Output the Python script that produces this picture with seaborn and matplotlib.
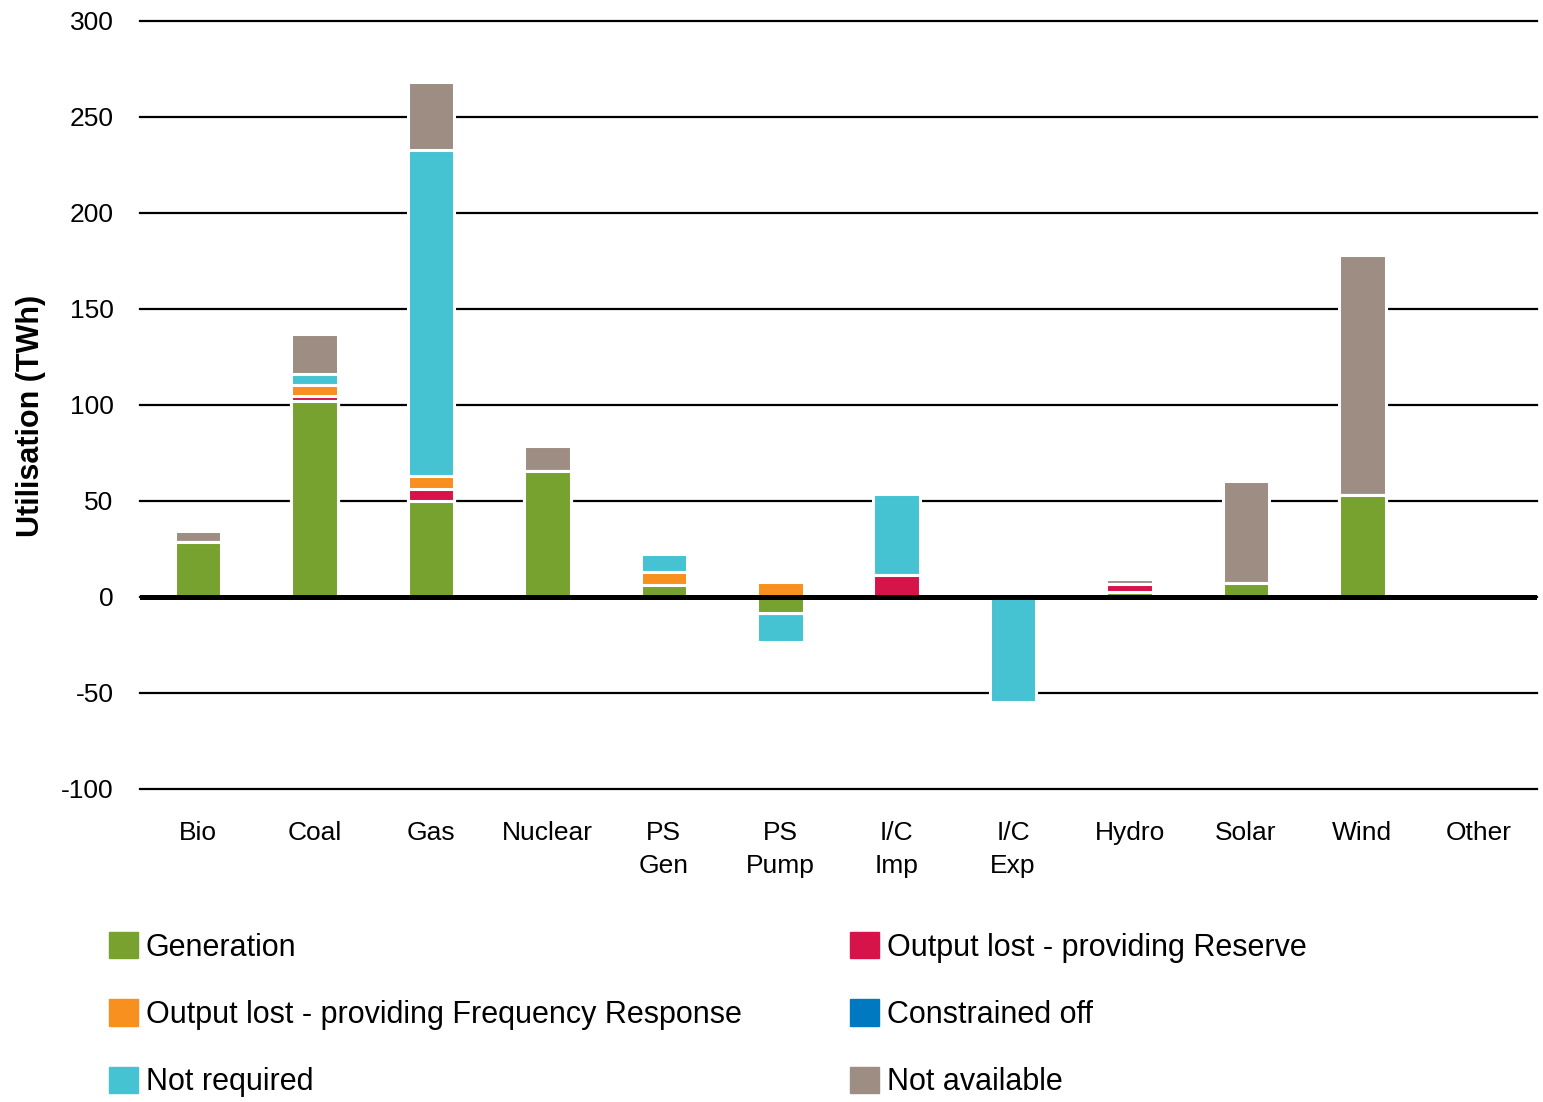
import numpy as np
import matplotlib
matplotlib.use("Agg")
import matplotlib.pyplot as plt
import matplotlib.patches as mpatches
import seaborn as sns

# categories and tick labels
categories = ["Bio", "Coal", "Gas", "Nuclear", "PS Gen", "PS Pump",
              "I/C Imp", "I/C Exp", "Hydro", "Solar", "Wind", "Other"]
tick_labels = ["Bio", "Coal", "Gas", "Nuclear", "PS\nGen", "PS\nPump",
               "I/C\nImp", "I/C\nExp", "Hydro", "Solar", "Wind", "Other"]

# utilisation by type (TWh)
generation = [28.5, 102, 50, 65.6, 6.2, -8.5, 0, 0, 2.5, 7.3, 53, 0]
reserve = [0, 2.7, 6, 0, 0, 0, 11.5, 0, 4.3, 0, 0, 0]
freq_response = [0, 5.7, 7, 0, 7, 7.8, 0, 0, 0, 0, 0, 0]
constrained_off = [0, 0, 0, 0, 0, 0, 0, 0, 0, 0, 0, 0]
not_required = [0, 5.7, 169.7, 0, 9.2, -15, 42.3, -54.5, 0, 0, 0, 0]
not_available = [6.0, 21.0, 35.5, 13.2, 0, 0, 0, 0, 2.7, 53.3, 125.3, 0]

series_names = ["Generation", "Output lost - providing Reserve",
                "Output lost - providing Frequency Response", "Constrained off",
                "Not required", "Not available"]
series_values = [generation, reserve, freq_response, constrained_off,
                 not_required, not_available]
colors = ["#78A22F", "#D7144A", "#F7901E", "#0079C1", "#45C3D2", "#9D8D83"]

plt.rcParams["font.family"] = ["Liberation Sans", "DejaVu Sans"]

fig = plt.figure(figsize=(15.43, 11.02), dpi=100)
ax = fig.add_axes([140 / 1543, 1 - 789 / 1102, 1397 / 1543, 768 / 1102])

vals = np.array(series_values, dtype=float)
pos_cum = np.cumsum(np.clip(vals, 0, None), axis=0)
neg_cum = np.cumsum(np.clip(vals, None, 0), axis=0)

# stacked bars: draw outermost cumulative first, inner segments on top
for cum in (pos_cum, neg_cum):
    for i in range(len(series_names) - 1, -1, -1):
        sns.barplot(x=categories, y=cum[i], order=categories, color=colors[i],
                    saturation=1, width=0.4, edgecolor="white", linewidth=2.2,
                    errorbar=None, ax=ax, zorder=2)

yticks = list(range(-100, 301, 50))
for t in yticks:
    ax.axhline(t, color="black", lw=1.6, zorder=1, clip_on=False)
ax.axhline(0, color="black", lw=3.6, zorder=5)

ax.set_ylim(-100, 300)
ax.set_xlim(-0.5, len(categories) - 0.5)
ax.set_yticks(yticks)
ax.set_yticklabels([str(t) for t in yticks])
ax.set_xticks(range(len(categories)))
ax.set_xticklabels(tick_labels, linespacing=1.5)
ax.tick_params(axis="y", length=0, labelsize=19, pad=19)
ax.tick_params(axis="x", length=0, labelsize=19, pad=23)
for s in ax.spines.values():
    s.set_visible(False)

ax.set_xlabel("")
ax.set_ylabel("Utilisation (TWh)", fontsize=22, fontweight="bold")
ax.yaxis.set_label_coords(-0.067, 0.486)

handles = [mpatches.Patch(color=c, label=n) for c, n in zip(colors, series_names)]
left_idx = [0, 2, 4]
right_idx = [1, 3, 5]
for idx, xpos in ((left_idx, 109 / 1543), (right_idx, 850 / 1543)):
    fig.legend(handles=[handles[k] for k in idx], loc="upper left",
               bbox_to_anchor=(xpos, 1 - 932 / 1102), frameon=False,
               fontsize=22, handlelength=0.95, handleheight=0.95,
               handletextpad=0.25, labelspacing=1.2, borderpad=0,
               borderaxespad=0)

fig.savefig("out.png", dpi=100)
